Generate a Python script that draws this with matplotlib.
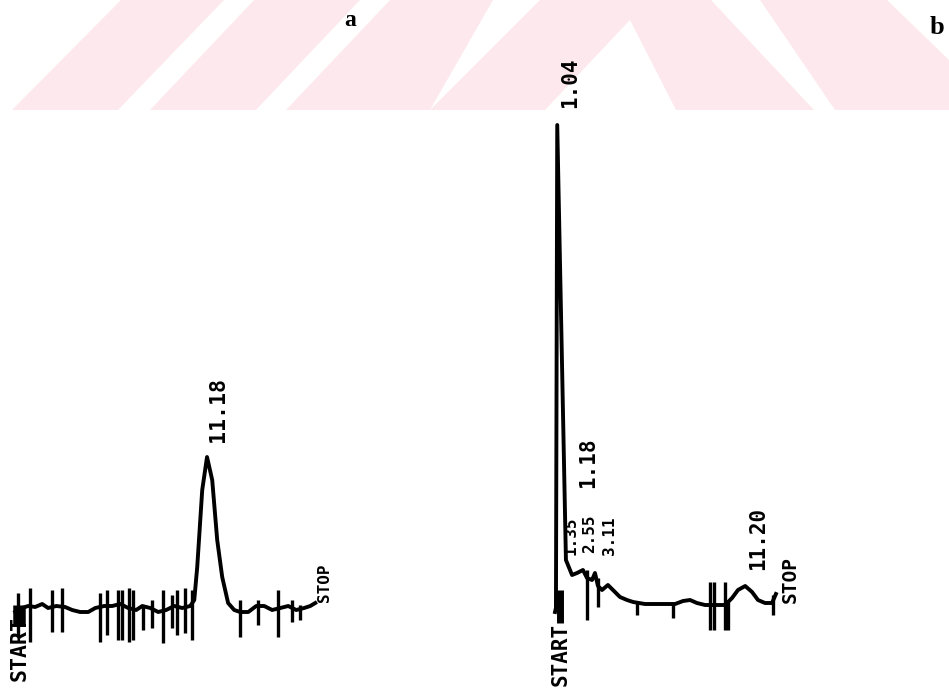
import matplotlib
matplotlib.use("Agg")
import matplotlib.pyplot as plt
from matplotlib.patches import Polygon

# ---------------- data (time in min, detector signal in arbitrary units) ----------------
# Panel a
trace_a_t = [0.81, 1.19, 1.51, 1.89, 2.27, 2.59, 3.03, 3.51, 3.89, 4.32, 4.76, 5.14, 5.62,
             6.05, 6.49, 6.92, 7.35, 7.68, 8.11, 8.54, 8.97, 9.41, 9.84, 10.27, 10.49, 10.65,
             10.92, 11.18, 11.46, 11.73, 12.00, 12.32, 12.65, 12.97, 13.41, 13.84, 14.27,
             14.70, 15.14, 15.57, 16.00, 16.43, 16.76, 17.03]
trace_a_s = [-4, 0, 2, 1, 4, 0, 2, 1, -2, -4, -4, 0, 2, 2, 4, 0, -2, 2, 0, -4, -2, 2, 0, 2,
             8, 41, 118, 151, 128, 68, 31, 5, -2, -4, -4, 2, 2, -2, 0, 2, -2, 0, 2, 5]
spike_a_t = [0.97, 1.62, 2.81, 3.35, 5.41, 5.78, 6.38, 6.59, 6.97, 7.19, 7.73, 8.22, 8.81,
             9.30, 9.57, 10.00, 10.38, 12.97, 13.95, 15.03, 15.78, 16.22]
spike_a_top = [15, 20, 18, 20, 15, 18, 18, 18, 20, 18, 3, 8, 18, 13, 18, 20, 18, 8, 8, 18, 8, 3]
spike_a_bot = [-29, -34, -24, -24, -34, -27, -32, -32, -34, -32, -22, -20, -35, -20, -27,
               -25, -32, -29, -17, -29, -14, -12]
peaks_a_t = [11.18]
peaks_a_s = [151]
peaks_a_lbl = ["11.18"]

# Panel b
trace_b_t = [0.92, 0.97, 1.04, 1.51, 1.84, 2.11, 2.43, 2.65, 2.92, 3.08, 3.24, 3.46, 3.78,
             4.16, 4.43, 4.81, 5.14, 5.78, 6.59, 7.41, 7.84, 8.22, 8.59, 9.03, 9.57, 10.11,
             10.49, 10.81, 11.20, 11.57, 11.89, 12.27, 12.65, 12.86]
trace_b_s = [-4, 0, 483, 48, 33, 35, 38, 30, 28, 35, 22, 18, 23, 16, 11, 8, 6, 4, 4, 4, 7,
             8, 5, 3, 3, 3, 10, 18, 22, 16, 8, 5, 5, 14]
spike_b_t = [2.65, 3.24, 5.35, 7.30, 9.30, 9.51, 10.11, 10.27, 12.70]
spike_b_top = [38, 30, 6, 4, 26, 26, 26, 8, 13]
spike_b_bot = [-12, 1, -7, -10, -22, -22, -22, -22, -7]
peaks_b_t = [1.04, 1.18, 1.35, 2.55, 3.11, 11.20]
peaks_b_lbl = ["1.04", "1.18", "1.35", "2.55", "3.11", "11.20"]

# ---------------- layout ----------------
W, H, DPI = 949, 691, 100
PX_PER_MIN = 18.5
Y0 = 608                      # pixel row of signal zero
A_ORIGIN = 0.2                # pixel column of t=0, panel a
B_ORIGIN = 538.0              # pixel column of t=0, panel b
SPLIT = 474.5

# label anchor positions (t, s) and sizes -- layout only
lbl_a_pos = [(11.76, 166)]
lbl_b_pos = [(1.73, 500), (2.70, 120), (1.78, 53), (2.80, 55), (3.84, 53), (11.89, 38)]
lbl_b_size = [15, 15, 11.5, 11.5, 11.5, 15]

INK = "#000000"
PINK = "#fde9ed"
mono = dict(family="DejaVu Sans Mono", weight="bold")

fig = plt.figure(figsize=(W / DPI, H / DPI), dpi=DPI)
fig.patch.set_facecolor("white")

# watermark stripes (decoration)
def fpoly(pts):
    return Polygon([(x / W, 1 - y / H) for x, y in pts], closed=True,
                   transform=fig.transFigure, facecolor=PINK, edgecolor="none", zorder=0)

stripes = [
    [(12, 110), (118, 110), (224, 0), (121, 0)],
    [(150, 110), (256, 110), (360, 0), (254, 0)],
    [(286, 110), (430, 110), (493, 0), (390, 0)],
    [(430, 110), (545, 110), (630, 20), (676, 110), (814, 110), (711, 0), (540, 0)],
    [(835, 110), (949, 110), (949, 60), (887, 0), (760, 0)],
]
for s in stripes:
    fig.add_artist(fpoly(s))

axA = fig.add_axes([0, 0, SPLIT / W, 1])
axB = fig.add_axes([SPLIT / W, 0, 1 - SPLIT / W, 1])
for ax in (axA, axB):
    ax.set_axis_off()
    ax.patch.set_alpha(0)
    ax.set_ylim(Y0 - H, Y0)
axA.set_xlim((0 - A_ORIGIN) / PX_PER_MIN, (SPLIT - A_ORIGIN) / PX_PER_MIN)
axB.set_xlim((SPLIT - B_ORIGIN) / PX_PER_MIN, (W - B_ORIGIN) / PX_PER_MIN)

LW = 2.8
# panel a
axA.plot(trace_a_t, trace_a_s, color=INK, lw=LW, solid_joinstyle="round")
axA.vlines(spike_a_t, spike_a_bot, spike_a_top, color=INK, lw=2.4)
axA.vlines([1.0], [-17], [3], color=INK, lw=9)
for (x, y), lbl in zip(lbl_a_pos, peaks_a_lbl):
    axA.text(x, y, lbl, rotation=90, ha="center", va="bottom", fontsize=15.5, color=INK, **mono)
axA.text(17.51, 6, "STOP", rotation=90, ha="center", va="bottom", fontsize=11.5, color=INK, **mono)
axA.text(1.05, -8, "START", rotation=90, ha="center", va="top", fontsize=15.5, color=INK, **mono)

# panel b
axB.plot(trace_b_t, trace_b_s, color=INK, lw=LW, solid_joinstyle="round")
axB.vlines(spike_b_t, spike_b_bot, spike_b_top, color=INK, lw=2.4)
axB.vlines([1.20], [-15], [18], color=INK, lw=5)
for (x, y), lbl, fs in zip(lbl_b_pos, peaks_b_lbl, lbl_b_size):
    axB.text(x, y, lbl, rotation=90, ha="center", va="bottom", fontsize=fs, color=INK, **mono)
axB.text(13.62, 5, "STOP", rotation=90, ha="center", va="bottom", fontsize=14, color=INK, **mono)
axB.text(1.24, -15, "START", rotation=90, ha="center", va="top", fontsize=15, color=INK, **mono)

serif = dict(family=["Liberation Serif", "DejaVu Serif"], weight="bold")
fig.text(350 / W, 1 - 20 / H, "a", ha="center", va="center", fontsize=17, color=INK, **serif)
fig.text(937 / W, 1 - 28 / H, "b", ha="center", va="center", fontsize=19, color=INK, **serif)

fig.savefig("out.png", dpi=DPI)
